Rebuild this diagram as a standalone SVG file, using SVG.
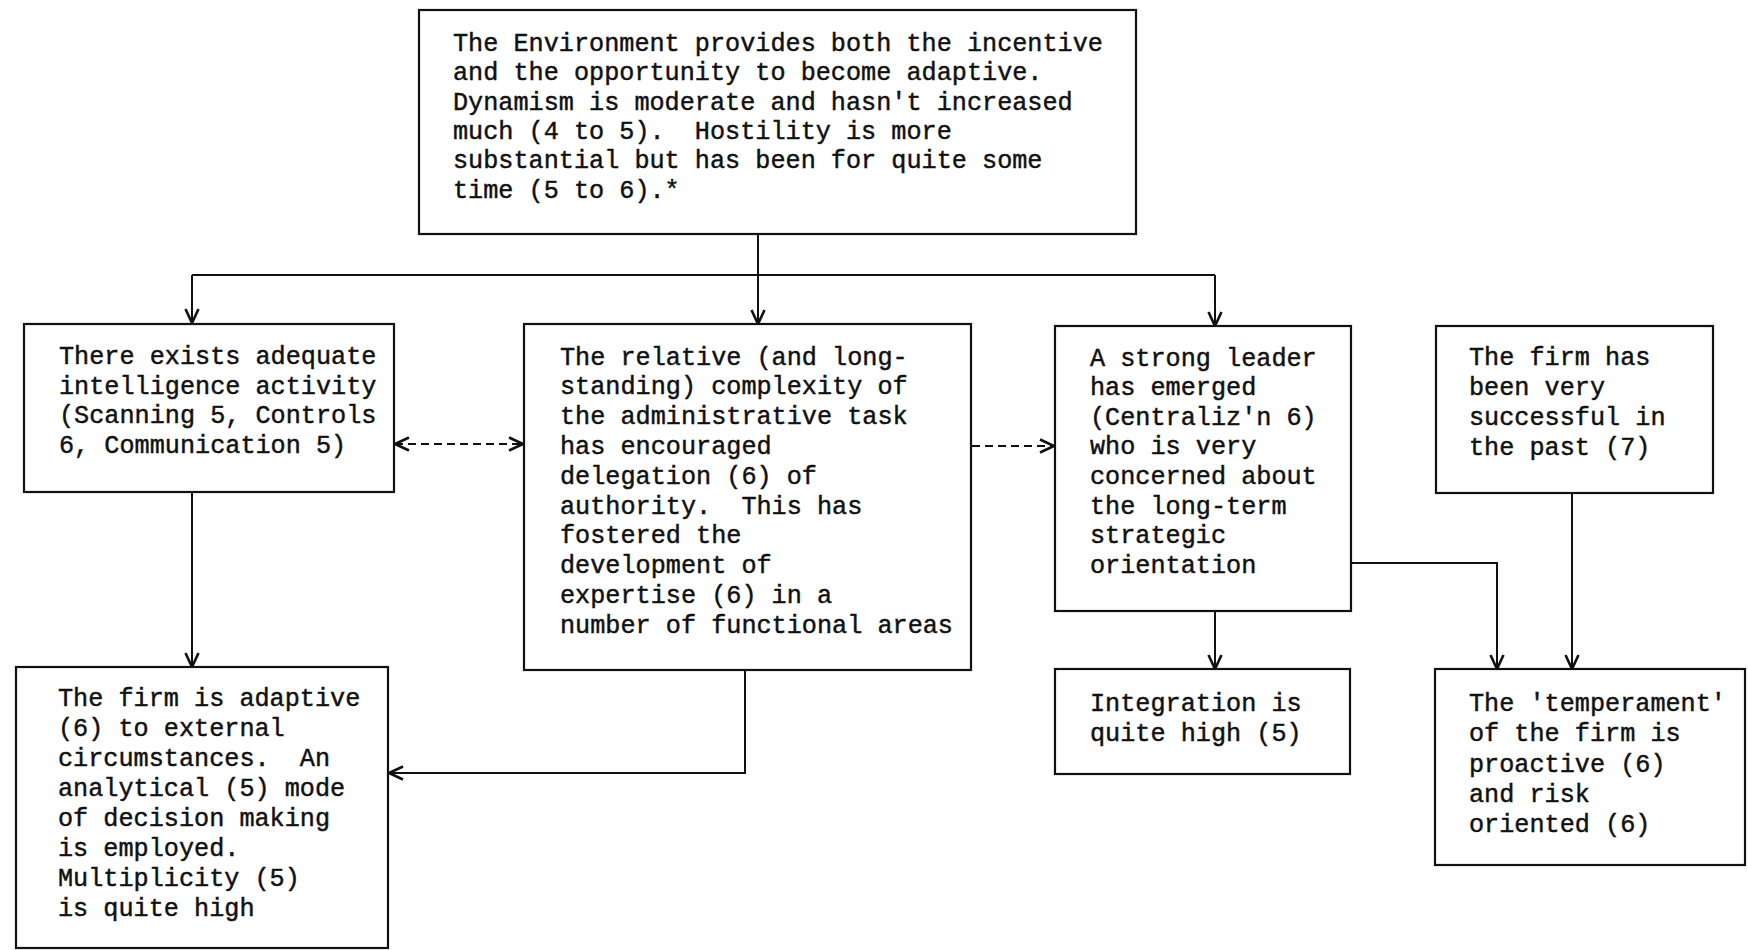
<svg xmlns="http://www.w3.org/2000/svg" width="1748" height="950" viewBox="0 0 1748 950">
  <style>
    .box { fill: #ffffff; stroke: #111111; stroke-width: 2.2; }
    .txt { font-family: "Liberation Mono", "DejaVu Sans Mono", monospace; font-size: 25.2px; fill: #111111; stroke: #111111; stroke-width: 0.45; }
    .line { fill: none; stroke: #111111; stroke-width: 2; }
    .dash { fill: none; stroke: #111111; stroke-width: 2.2; stroke-dasharray: 8 5; }
  </style>
  <defs>
    <marker id="arrow" viewBox="0 0 16 16" refX="15" refY="8" markerWidth="16" markerHeight="16" markerUnits="userSpaceOnUse" orient="auto-start-reverse">
      <path d="M1,1.5 L15,8 L1,14.5" fill="none" stroke="#111111" stroke-width="2.6"/>
    </marker>
  </defs>
  <rect width="1748" height="950" fill="#ffffff"/>

  <!-- connectors -->
  <g id="connectors">
    <!-- environment to the three middle-row boxes -->
    <path class="line" d="M758,234 V324" marker-end="url(#arrow)"/>
    <path class="line" d="M192,275 H1215"/>
    <path class="line" d="M192,275 V323" marker-end="url(#arrow)"/>
    <path class="line" d="M1215,275 V326" marker-end="url(#arrow)"/>
    <!-- intelligence to adaptive -->
    <path class="line" d="M192,492 V667" marker-end="url(#arrow)"/>
    <!-- dashed links between middle-row boxes -->
    <path class="dash" d="M395,444 H523" marker-start="url(#arrow)" marker-end="url(#arrow)"/>
    <path class="dash" d="M972,446 H1054" marker-end="url(#arrow)"/>
    <!-- administrative task to adaptive -->
    <path class="line" d="M745,670 V773 H389" marker-end="url(#arrow)"/>
    <!-- leader to integration -->
    <path class="line" d="M1215,611 V669" marker-end="url(#arrow)"/>
    <!-- leader to temperament -->
    <path class="line" d="M1351,563 H1497 V669" marker-end="url(#arrow)"/>
    <!-- past success to temperament -->
    <path class="line" d="M1572,493 V669" marker-end="url(#arrow)"/>
  </g>

  <g id="environment">
    <rect class="box" x="419" y="10" width="717" height="224"/>
    <text class="txt">
      <tspan x="453" y="51">The Environment provides both the incentive</tspan>
      <tspan x="453" y="80.3">and the opportunity to become adaptive.</tspan>
      <tspan x="453" y="109.6">Dynamism is moderate and hasn't increased</tspan>
      <tspan x="453" y="138.9">much (4 to 5). &#160;Hostility is more</tspan>
      <tspan x="453" y="168.2">substantial but has been for quite some</tspan>
      <tspan x="453" y="197.5">time (5 to 6).*</tspan>
    </text>
  </g>

  <g id="intelligence">
    <rect class="box" x="24" y="324" width="370" height="168"/>
    <text class="txt">
      <tspan x="59" y="364">There exists adequate</tspan>
      <tspan x="59" y="393.7">intelligence activity</tspan>
      <tspan x="59" y="423.4">(Scanning 5, Controls</tspan>
      <tspan x="59" y="453.1">6, Communication 5)</tspan>
    </text>
  </g>

  <g id="administrative">
    <rect class="box" x="524" y="324" width="447" height="346"/>
    <text class="txt">
      <tspan x="560" y="364.5">The relative (and long-</tspan>
      <tspan x="560" y="394.3">standing) complexity of</tspan>
      <tspan x="560" y="424.1">the administrative task</tspan>
      <tspan x="560" y="453.9">has encouraged</tspan>
      <tspan x="560" y="483.7">delegation (6) of</tspan>
      <tspan x="560" y="513.5">authority. &#160;This has</tspan>
      <tspan x="560" y="543.3">fostered the</tspan>
      <tspan x="560" y="573.1">development of</tspan>
      <tspan x="560" y="602.9">expertise (6) in a</tspan>
      <tspan x="560" y="632.7">number of functional areas</tspan>
    </text>
  </g>

  <g id="leader">
    <rect class="box" x="1055" y="326" width="296" height="285"/>
    <text class="txt">
      <tspan x="1090" y="365.5">A strong leader</tspan>
      <tspan x="1090" y="395.1">has emerged</tspan>
      <tspan x="1090" y="424.7">(Centraliz'n 6)</tspan>
      <tspan x="1090" y="454.3">who is very</tspan>
      <tspan x="1090" y="483.9">concerned about</tspan>
      <tspan x="1090" y="513.5">the long-term</tspan>
      <tspan x="1090" y="543.1">strategic</tspan>
      <tspan x="1090" y="572.7">orientation</tspan>
    </text>
  </g>

  <g id="success">
    <rect class="box" x="1436" y="326" width="277" height="167"/>
    <text class="txt">
      <tspan x="1469" y="364.5">The firm has</tspan>
      <tspan x="1469" y="394.5">been very</tspan>
      <tspan x="1469" y="424.5">successful in</tspan>
      <tspan x="1469" y="454.5">the past (7)</tspan>
    </text>
  </g>

  <g id="adaptive">
    <rect class="box" x="16" y="667" width="372" height="281"/>
    <text class="txt">
      <tspan x="58" y="705.5">The firm is adaptive</tspan>
      <tspan x="58" y="735.6">(6) to external</tspan>
      <tspan x="58" y="765.7">circumstances. &#160;An</tspan>
      <tspan x="58" y="795.8">analytical (5) mode</tspan>
      <tspan x="58" y="825.9">of decision making</tspan>
      <tspan x="58" y="856">is employed.</tspan>
      <tspan x="58" y="886.1">Multiplicity (5)</tspan>
      <tspan x="58" y="916.2">is quite high</tspan>
    </text>
  </g>

  <g id="integration">
    <rect class="box" x="1055" y="669" width="295" height="105"/>
    <text class="txt">
      <tspan x="1090" y="711">Integration is</tspan>
      <tspan x="1090" y="740.5">quite high (5)</tspan>
    </text>
  </g>

  <g id="temperament">
    <rect class="box" x="1435" y="669" width="310" height="196"/>
    <text class="txt">
      <tspan x="1469" y="711">The 'temperament'</tspan>
      <tspan x="1469" y="741.3">of the firm is</tspan>
      <tspan x="1469" y="771.6">proactive (6)</tspan>
      <tspan x="1469" y="801.9">and risk</tspan>
      <tspan x="1469" y="832.2">oriented (6)</tspan>
    </text>
  </g>
</svg>
